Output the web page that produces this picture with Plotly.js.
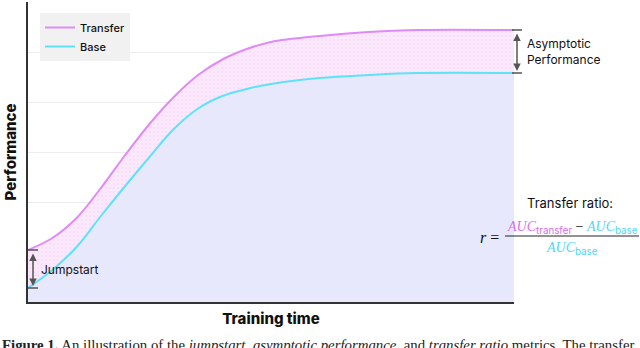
<!DOCTYPE html>
<html>
<head>
<meta charset="utf-8">
<script src="https://cdn.plot.ly/plotly-3.0.1.min.js"></script>
<style>
  body { margin: 0; background: #fff; }
  #chart { width: 640px; height: 348px; }
</style>
</head>
<body>
<div id="chart"></div>
<script>
// training time (arbitrary units, 0-100)
const trainTime = [0, 5, 10, 15, 20, 25, 30, 35, 40, 45, 50, 60, 70, 80, 100];
// performance curves
const transferPerf = [1.04, 1.28, 1.68, 2.28, 2.94, 3.56, 4.1, 4.54, 4.85, 5.06, 5.2, 5.32, 5.4, 5.44, 5.44];
const basePerf = [0.28, 0.64, 1.1, 1.72, 2.32, 2.9, 3.46, 3.87, 4.12, 4.26, 4.36, 4.48, 4.54, 4.58, 4.58];

const transferColor = '#e08af7';
const baseColor = '#5ee2fb';

// plot area in pixels
const plotL = 28, plotR = 514, plotT = 2, plotB = 302;
const pw = plotR - plotL, ph = plotB - plotT;
function px(x) { return (x - plotL) / pw; }   // pixel -> paper x
function py(y) { return (plotB - y) / ph; }   // pixel -> paper y

const traces = [
    {   // base area
        x: trainTime, y: basePerf, type: 'scatter', mode: 'lines',
        line: { width: 0, shape: 'spline', smoothing: 1 }, fill: 'tozeroy',
        fillcolor: '#e8e8fd', showlegend: false, hoverinfo: 'skip'
    },
    {   // gap between transfer and base
        x: trainTime, y: transferPerf, type: 'scatter', mode: 'lines',
        line: { width: 0, shape: 'spline', smoothing: 1 }, fill: 'tonexty',
        fillcolor: '#fbe7fc',
        fillpattern: { shape: '.', size: 4, solidity: 0.1, fgcolor: '#f3d0f7', bgcolor: '#fbe8fc' },
        showlegend: false, hoverinfo: 'skip'
    },
    {
        x: trainTime, y: transferPerf, type: 'scatter', mode: 'lines', name: 'Transfer',
        line: { color: transferColor, width: 2, shape: 'spline', smoothing: 1 }
    },
    {
        x: trainTime, y: basePerf, type: 'scatter', mode: 'lines', name: 'Base',
        line: { color: baseColor, width: 2, shape: 'spline', smoothing: 1 }
    }
];

const labelFont = { family: 'Inter, Roboto, sans-serif', size: 12, color: '#111' };
const mathFont = { family: 'Liberation Serif, DejaVu Serif, serif', size: 14, color: '#111' };

const jumpTop = transferPerf[0], jumpBot = basePerf[0];
const asymTop = transferPerf[transferPerf.length - 1], asymBot = basePerf[basePerf.length - 1];

function capLine(xPix, yVal) {
    return {
        type: 'line', xref: 'paper', yref: 'y',
        x0: px(xPix - 5), x1: px(xPix + 5), y0: yVal, y1: yVal,
        line: { color: '#555', width: 1.5 }
    };
}

const shapes = [
    capLine(33, jumpTop), capLine(33, jumpBot),
    capLine(517, asymTop), capLine(517, asymBot),
    {   // fraction bar
        type: 'line', xref: 'paper', yref: 'paper',
        x0: px(505), x1: px(639), y0: py(236), y1: py(236),
        line: { color: '#222', width: 1 }
    }
];

const annotations = [
    {   // jumpstart arrow
        xref: 'paper', yref: 'y', axref: 'pixel', ayref: 'y',
        x: px(33), y: jumpBot + 0.04, ax: 0, ay: jumpTop - 0.04,
        showarrow: true, arrowhead: 2, startarrowhead: 2, arrowside: 'end+start',
        arrowsize: 1, arrowwidth: 1.5, arrowcolor: '#555', text: ''
    },
    {
        xref: 'paper', yref: 'y', x: px(39), y: (jumpTop + jumpBot) / 2,
        xanchor: 'left', yanchor: 'middle', showarrow: false,
        text: 'Jumpstart', font: labelFont
    },
    {   // asymptotic arrow
        xref: 'paper', yref: 'y', axref: 'pixel', ayref: 'y',
        x: px(517), y: asymBot + 0.04, ax: 0, ay: asymTop - 0.04,
        showarrow: true, arrowhead: 2, startarrowhead: 2, arrowside: 'end+start',
        arrowsize: 1, arrowwidth: 1.5, arrowcolor: '#555', text: ''
    },
    {
        xref: 'paper', yref: 'y', x: px(525), y: (asymTop + asymBot) / 2,
        xanchor: 'left', yanchor: 'middle', align: 'left', showarrow: false,
        text: 'Asymptotic<br>Performance', font: labelFont
    },
    {
        xref: 'paper', yref: 'paper', x: px(525), y: py(203),
        xanchor: 'left', yanchor: 'middle', showarrow: false,
        text: 'Transfer ratio:', font: { family: 'Inter, Roboto, sans-serif', size: 13, color: '#111' }
    },
    {
        xref: 'paper', yref: 'paper', x: px(501), y: py(237),
        xanchor: 'right', yanchor: 'middle', showarrow: false,
        text: '<i>r</i> =', font: { family: 'Liberation Serif, serif', size: 16, color: '#111' }
    },
    {
        xref: 'paper', yref: 'paper', x: px(572), y: py(227),
        xanchor: 'center', yanchor: 'middle', showarrow: false,
        text: '<span style="color:#d66cf2"><i>AUC</i><sub><span style="font-family:Inter">transfer</span></sub></span> − ' +
              '<span style="color:#4fd6f7"><i>AUC</i><sub><span style="font-family:Inter">base</span></sub></span>',
        font: mathFont
    },
    {
        xref: 'paper', yref: 'paper', x: px(572), y: py(248),
        xanchor: 'center', yanchor: 'middle', showarrow: false,
        text: '<span style="color:#4fd6f7"><i>AUC</i><sub><span style="font-family:Inter">base</span></sub></span>',
        font: mathFont
    },
    {   // caption, cut off at the bottom edge as in the source figure
        xref: 'paper', yref: 'paper', x: px(0), y: py(335),
        xanchor: 'left', yanchor: 'top', showarrow: false,
        text: '<b>Figure 1.</b> An illustration of the <i>jumpstart</i>, <i>asymptotic performance</i>, and <i>transfer ratio</i> metrics. The transfer',
        font: { family: 'Liberation Serif, serif', size: 14.8, color: '#222' }
    }
];

const layout = {
    width: 640, height: 348,
    margin: { l: plotL, r: 640 - plotR, t: plotT, b: 348 - plotB },
    paper_bgcolor: '#fff', plot_bgcolor: '#fff',
    showlegend: true,
    legend: {
        x: px(40), y: py(13), xanchor: 'left', yanchor: 'top',
        bgcolor: '#f1f1f1', borderwidth: 0, traceorder: 'normal',
        font: { family: 'Inter, Roboto, sans-serif', size: 11, color: '#111', weight: 500 },
        tracegroupgap: 0, itemwidth: 30
    },
    xaxis: {
        range: [0, 100], showgrid: false, zeroline: false,
        showticklabels: false, ticks: '',
        showline: true, linecolor: '#333', linewidth: 2,
        title: { text: 'Training time', standoff: 10,
                 font: { family: 'Inter, Roboto, sans-serif', size: 15, color: '#111', weight: 800 } }
    },
    yaxis: {
        range: [0, 6], dtick: 1, showgrid: true, gridcolor: '#ececec', gridwidth: 1,
        zeroline: false, showticklabels: false, ticks: '',
        showline: true, linecolor: '#333', linewidth: 2,
        title: { text: 'Performance', standoff: 6,
                 font: { family: 'Inter, Roboto, sans-serif', size: 15, color: '#111', weight: 800 } }
    },
    shapes: shapes,
    annotations: annotations
};

Plotly.newPlot('chart', traces, layout, { displayModeBar: false, staticPlot: true });
</script>
</body>
</html>
